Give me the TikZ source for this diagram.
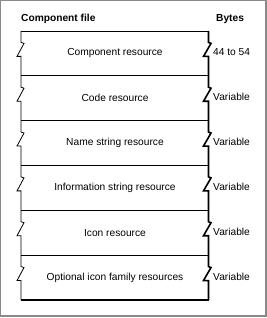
\documentclass[tikz,border=0pt]{standalone}
\usepackage{fontspec}
\setmainfont{Liberation Sans}
\definecolor{framegray}{HTML}{8A8A8A}
\begin{document}
\begin{tikzpicture}[
        x=1pt, y=-1pt,
        every node/.style={inner sep=0pt, font=\fontsize{10.2}{12}\selectfont},
        head/.style={anchor=west, font=\fontsize{10.2}{12}\selectfont\bfseries},
        size/.style={anchor=west},
        thin edge/.style={line width=0.8pt},
        thick edge/.style={line width=1.6pt}
    ]
    \useasboundingbox (0,0) rectangle (267,318);
    % frame
    \draw[framegray, line width=1.2pt] (0.6,316) -- (0.6,0.6) -- (266,0.6);
    \draw[framegray, line width=2pt] (266,0) -- (266,316) -- (0,316);
    % headings
    \node[head] (file) at (21,19) {Component file};
    \node[head] (bytes) at (216,19) {Bytes};
    % bands
    \foreach \name/\size [count=\i from 0] in {
            Component resource/44 to 54,
            Code resource/Variable,
            Name string resource/Variable,
            Information string resource/Variable,
            Icon resource/Variable,
            Optional icon family resources/Variable} {
        \pgfmathsetmacro{\top}{31+44.83*\i}
        \pgfmathsetmacro{\mid}{\top+22.4}
        \node (res\i) at (115,\mid) {\name};
        \node[size] (len\i) at (213,\mid-1) {\size};
        \draw[thin edge] (21,\top) -- (208.5,\top);
        % left break
        \draw[thin edge] (21,\top) -- (21,\mid-11) -- (24,\mid-10)
            -- (17,\mid+3) -- (21,\mid+3) -- (21,\top+44.83);
        % right break
        \draw[thick edge] (208.5,\top) -- (208.5,\mid-11) -- (211,\mid-10)
            -- (203.5,\mid+3) -- (208.5,\mid+3) -- (208.5,\top+44.83);
    }
    \draw[thick edge] (20.6,300) -- (209.3,300);
\end{tikzpicture}
\end{document}
